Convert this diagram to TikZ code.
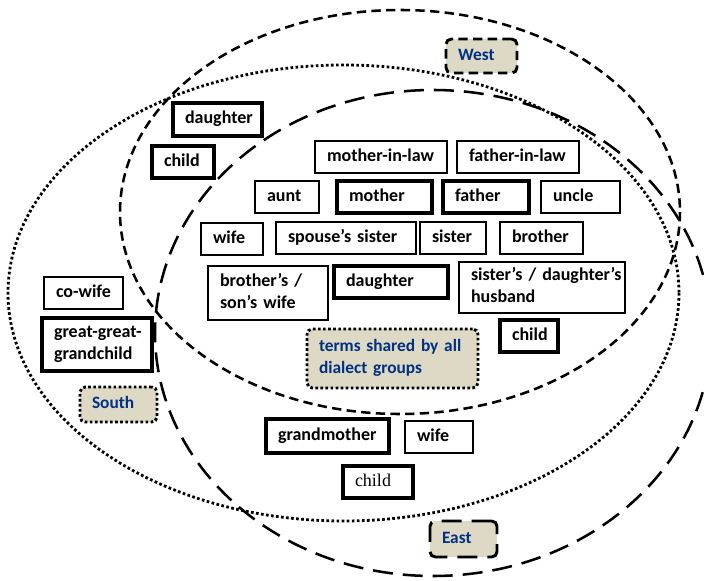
\documentclass[tikz,border=0pt]{standalone}
\usepackage{fontspec}
\setmainfont{Carlito}
\newfontfamily\serifchild{Liberation Serif}
\definecolor{tanfill}{RGB}{221,217,196}
\definecolor{labelblue}{RGB}{0,48,130}
\newcommand\kbox[7]{%
  \pgfmathsetmacro\kcx{(#3+#5)/2}%
  \pgfmathsetmacro\kcy{(#4+#6)/2}%
  \pgfmathsetmacro\kw{(#5-#3)*0.75-18}%
  \pgfmathsetmacro\kh{(#6-#4)*0.75}%
  \node[#2, text width=\kw pt, minimum height=\kh pt] (#1) at (\kcx,\kcy)
    {\raisebox{-1pt}{\begin{tabular}{@{}l@{}}#7\end{tabular}}};}
\begin{document}
\begin{tikzpicture}[x=0.75pt,y=-0.75pt,
  term/.style={draw=black, fill=white, inner xsep=9pt, inner ysep=0pt, align=left,
    font=\fontsize{13.5}{16.5}\selectfont\bfseries},
  thin/.style={term, line width=0.8pt},
  mid/.style={term, line width=1.5pt},
  thick/.style={term, line width=2.3pt},
  region/.style={draw=black, fill=tanfill, line width=2.2pt, rounded corners=4pt,
    inner xsep=9pt, inner ysep=0pt, align=left, text=labelblue,
    font=\fontsize{13}{16.5}\selectfont\bfseries},
  shortdash/.style={dash pattern=on 7pt off 4pt},
  longdash/.style={dash pattern=on 15pt off 7.5pt},
  dotline/.style={dash pattern=on 2pt off 1.8pt},
  ringline/.style={draw=black, line width=1.9pt}
]
\useasboundingbox (0,0) rectangle (704,581);
% region outlines
\draw[ringline, shortdash] (400,212) ellipse [x radius=280, y radius=202];
\draw[ringline, dotline, line width=2.1pt] (343.5,293) ellipse [x radius=335.5, y radius=228];
\draw[ringline, longdash] (433,333) ellipse [x radius=278, y radius=243];
% region labels
\kbox{west}{region, shortdash}{446}{39}{517}{73}{West}
\kbox{south}{region, dotline}{80}{387}{157}{422}{South}
\kbox{east}{region, longdash}{430}{521}{497}{557}{East}
\kbox{shared}{region, dotline}{307}{329}{478}{388}{terms shared by all\\dialect groups}
% terms
\kbox{daughterW}{thick}{173}{103}{262}{136}{daughter}
\kbox{childW}{thick}{152}{146}{214}{178}{child}
\kbox{motherinlaw}{thin}{315}{141}{447}{173}{mother-in-law}
\kbox{fatherinlaw}{thin}{457}{141}{579}{173}{father-in-law}
\kbox{aunt}{mid}{255}{181}{319}{213}{aunt}
\kbox{mother}{thick}{337}{181}{432}{213}{mother}
\kbox{father}{thick}{443}{181}{529}{213}{father}
\kbox{uncle}{mid}{541}{181}{620}{213}{uncle}
\kbox{wifeA}{thin}{201}{223}{263}{255}{wife}
\kbox{spousesister}{thin}{276}{222}{416}{254}{spouse’s sister}
\kbox{sister}{mid}{420}{222}{486}{254}{sister}
\kbox{brother}{mid}{500}{222}{583}{254}{brother}
\kbox{brotherswife}{thin}{208}{266}{328}{320}{brother’s /\\son’s wife}
\kbox{daughterA}{thick}{334}{266}{448}{298}{daughter}
\kbox{sistershusband}{thin}{459}{262}{625}{313}{sister’s / daughter’s\\husband}
\kbox{cowife}{thin}{44}{277}{123}{309}{co-wife}
\kbox{ggg}{thick}{42}{318}{152}{371}{great-great-\\grandchild}
\kbox{childA}{thick}{500}{320}{558}{352}{child}
\kbox{grandmother}{thick}{266}{419}{389}{453}{grandmother}
\kbox{wifeE}{thin}{405}{421}{473}{453}{wife}
\kbox{childE}{thick, font=\fontsize{13.5}{16.5}\serifchild}{343}{466}{413}{498}{child}
\end{tikzpicture}
\end{document}
